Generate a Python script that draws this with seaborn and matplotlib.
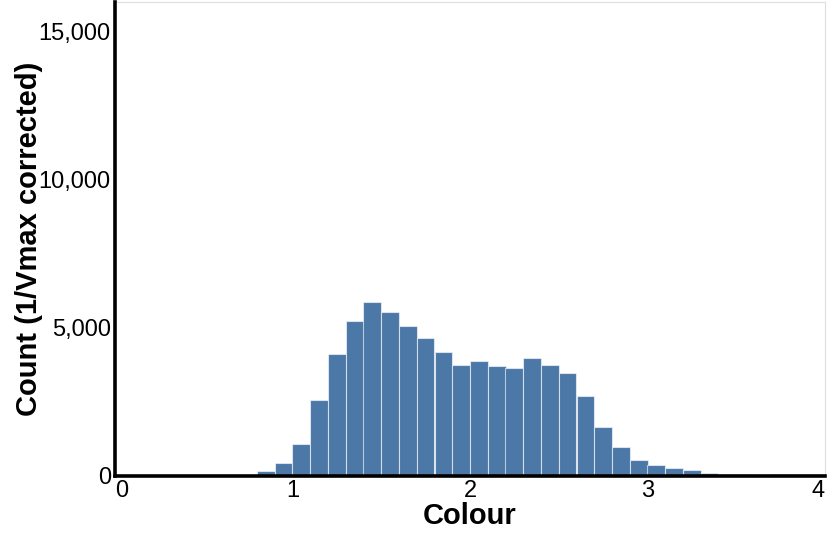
import matplotlib
matplotlib.use("Agg")
import matplotlib.pyplot as plt
import seaborn as sns
import numpy as np

# Data: histogram of colour, bins of width 0.1 from 0 to 4
bin_edges = [round(i * 0.1, 1) for i in range(41)]
bin_centers = [round(i * 0.1 + 0.05, 2) for i in range(40)]
counts = [40, 40, 40, 50, 40, 40, 30, 30,
          170, 430, 1070, 2570, 4120, 5240, 5860, 5530, 5070, 4650, 4170, 3730,
          3890, 3710, 3650, 3970, 3750, 3480, 2690, 1640, 990, 530,
          380, 270, 190, 100, 80, 75, 50, 60, 60, 60]
x_ticks = [0, 1, 2, 3, 4]
y_ticks = [0, 5000, 10000, 15000]
x_title = "Colour"
y_title = "Count (1/Vmax corrected)"

sns.set_style("white")
plt.rcParams['font.family'] = ['Liberation Sans', 'DejaVu Sans']

fig = plt.figure(figsize=(8.31, 5.34), dpi=100)
ax = fig.add_axes([115/831, (534-476)/534, (825-115)/831, (476-2)/534])

sns.histplot(x=bin_centers, weights=counts, bins=bin_edges, ax=ax,
             color="#4c78a8", alpha=1.0, edgecolor=(1, 1, 1, 0.6), linewidth=0.8)

ax.set_xlim(0, 4)
ax.set_ylim(0, 16000)
ax.set_xticks(x_ticks)
ax.set_yticks(y_ticks)
ax.set_xticklabels([str(t) for t in x_ticks])
ax.set_yticklabels([f"{t:,}" for t in y_ticks])
ax.tick_params(axis='both', length=0, labelsize=17, pad=3, colors='black')
xl = ax.get_xticklabels()
xl[0].set_horizontalalignment('left')
xl[-1].set_horizontalalignment('right')

ax.set_xlabel(x_title, fontsize=21, fontweight='bold', labelpad=0, color='black')
ax.set_ylabel(y_title, fontsize=21, fontweight='bold', labelpad=-3, color='black')

for s in ['left', 'bottom']:
    ax.spines[s].set_color('black')
    ax.spines[s].set_linewidth(2.6)
for s in ['top', 'right']:
    ax.spines[s].set_color('#dddddd')
    ax.spines[s].set_linewidth(0.8)
ax.spines['left'].set_zorder(5)
ax.spines['bottom'].set_zorder(5)

fig.savefig("out.png", dpi=100)
